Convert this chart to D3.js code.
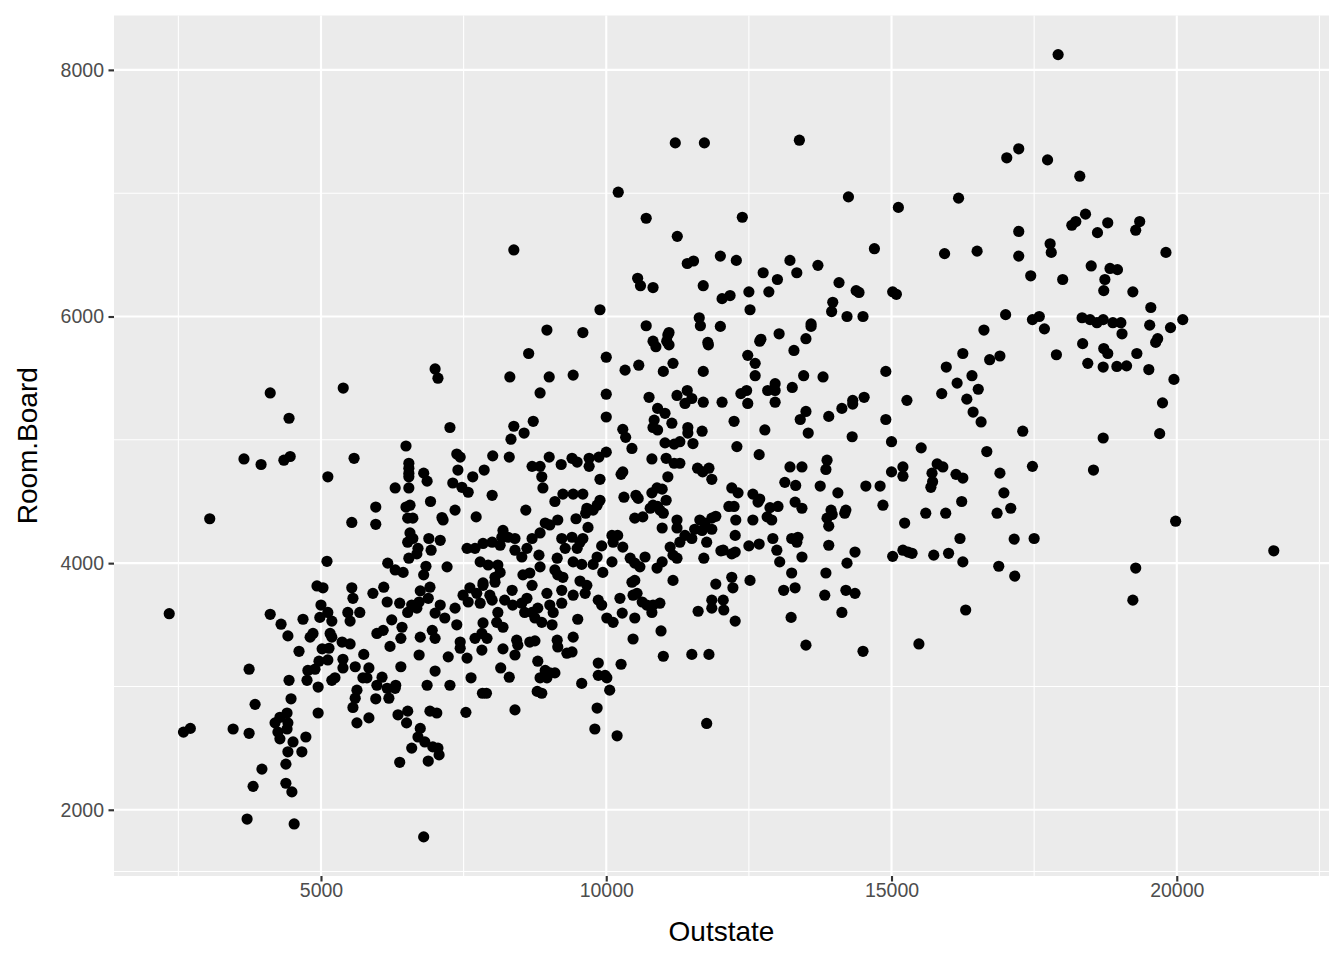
<!DOCTYPE html>
<html><head><meta charset="utf-8">
<script src="https://cdn.jsdelivr.net/npm/d3@7"></script>
<style>html,body{margin:0;padding:0;background:#fff;}svg{display:block;}</style>
</head><body>
<svg id="chart" width="1344" height="960"></svg>
<script>
// Outstate (x) vs Room.Board (y)
const topPoints = [[17920,8124],[11210,7408],[11720,7408],[13385,7430],[17230,7360],[17020,7287],[17735,7270],[10210,7008],[14245,6970],[15120,6885],[10700,6797],[12385,6805],[11245,6650],[16175,6960],[18300,7138],[17230,6690],[18160,6740],[18400,6830],[18230,6770],[18790,6760],[18610,6680],[19350,6770],[19280,6700],[19810,6520],[15930,6510],[17780,6590],[17800,6520],[16500,6530],[17230,6490],[17440,6330],[18500,6410],[18830,6390],[18960,6380],[18740,6300],[18720,6210],[18000,6300],[19230,6200],[8380,6540]];
const rightPoints = [[19545,6073],[19020,5950],[19040,5860],[19525,5930],[19890,5910],[20105,5975],[19665,5820],[19630,5790],[19300,5700],[18950,5595],[19120,5600],[19510,5570],[19950,5490],[19750,5300],[19700,5050],[15085,6180],[15020,6200],[17000,6015],[17470,5975],[17590,6000],[17680,5900],[18340,5990],[18480,5975],[18600,5950],[18710,5975],[18880,5950],[16620,5890],[18350,5780],[18720,5740],[18790,5700],[18440,5620],[18710,5590],[17890,5690],[16250,5700],[16720,5650],[16900,5680],[15960,5590],[16410,5520],[16150,5460],[16520,5410],[15880,5375],[15270,5320],[16320,5330],[16430,5225],[16570,5145],[17300,5070],[18710,5015],[19980,4340],[21700,4100],[19280,3960],[19230,3700]];
const upperMidPoints = [[14700,6550],[11420,6430],[11530,6450],[12000,6490],[12280,6455],[13220,6455],[13710,6415],[10550,6310],[10600,6250],[10820,6235],[11700,6250],[12750,6355],[13000,6300],[13340,6355],[14080,6275],[14380,6210],[14430,6195],[12030,6145],[12170,6170],[12500,6200],[12850,6200],[12520,6055],[13970,6115],[13950,6040],[14220,6000],[14500,6000],[9890,6055],[11630,5990],[11650,5925],[10700,5925],[11100,5870],[12000,5920],[13030,5860],[13590,5940],[13590,5920],[12710,5815],[13500,5820],[10820,5800],[11060,5800],[11780,5790]];
const midRightPoints = [[11790,5770],[12690,5800],[13290,5725],[12480,5685],[12610,5620],[12610,5520],[11700,5555],[13460,5520],[13800,5510],[14900,5555],[11420,5400],[11500,5335],[11380,5295],[11700,5305],[12030,5305],[12360,5375],[12460,5400],[12480,5295],[12830,5400],[12960,5455],[12960,5400],[12960,5305],[13260,5425],[12240,5150],[12780,5080],[13400,5165],[13500,5230],[13540,5055],[13900,5190],[14130,5255],[14320,5290],[14320,5320],[14520,5345],[14900,5165],[11430,5100],[11430,5055],[11680,5070],[11290,4985],[11520,4970],[12290,4945],[12680,4880],[14310,5025],[15000,4985],[11290,4810],[11600,4770],[11690,4740],[11800,4770],[11850,4680],[13220,4780],[13430,4780],[13870,4835],[13850,4760],[13130,4655],[13320,4630],[13750,4625],[14060,4570],[14550,4625],[14800,4625],[15000,4740],[15200,4780],[15200,4705],[12200,4610],[12310,4570],[12570,4560],[12690,4520],[12660,4495],[12150,4460],[12240,4460],[12870,4450],[13010,4460],[13310,4495],[13430,4445],[13940,4430],[14200,4430],[14850,4470]];
const midPoints = [[8960,5890],[9590,5870],[11080,5850],[11100,5770],[10870,5755],[8640,5700],[10000,5670],[8310,5510],[9000,5510],[9420,5525],[10330,5565],[10570,5605],[11000,5555],[11170,5620],[8840,5380],[10000,5370],[10750,5345],[11240,5360],[10900,5255],[11030,5215],[10840,5160],[10820,5100],[10900,5080],[11150,5135],[10000,5185],[8720,5150],[8380,5110],[8560,5055],[8330,5005],[7260,5100],[10290,5085],[10340,5020],[10450,4930],[11030,4975],[11190,4965],[7380,4885],[7440,4860],[8010,4870],[8300,4860],[9000,4860],[8700,4785],[8840,4785],[8870,4700],[8890,4610],[9210,4800],[9400,4850],[9490,4820],[9700,4850],[9700,4785],[9870,4860],[10000,4900],[9890,4680],[10290,4740],[10260,4720],[10800,4845],[11050,4850],[11190,4810],[11080,4700],[7400,4755],[7660,4700],[7860,4755],[7310,4650],[7470,4615],[7580,4575],[8000,4550],[9100,4500],[9240,4560],[9420,4560],[9590,4560],[9890,4510],[10310,4535],[10520,4550],[10560,4525],[10800,4570],[10890,4610],[10980,4600],[11050,4510],[10820,4470],[10900,4460],[8590,4430],[7350,4430],[9660,4445],[9840,4470]];
const upperLeftPoints = [[4110,5380],[4440,5175],[5390,5420],[7000,5575],[7050,5500],[3650,4845],[3950,4800],[4350,4835],[4460,4865],[5120,4700],[5580,4850],[6490,4950],[6540,4810],[6540,4770],[6540,4730],[6540,4700],[6800,4730],[6860,4665],[6300,4610],[6540,4610],[5960,4455],[6490,4455],[6560,4470],[6920,4500],[3050,4360]];
const leftPoints = [[5960,4315],[5540,4330],[6610,4365],[6520,4365],[7120,4370],[7140,4350],[6560,4245],[6610,4200],[6520,4170],[6890,4200],[7090,4185],[6930,4105],[6700,4120],[6680,4075],[6540,4040],[6170,4000],[6300,3945],[6440,3925],[6840,3975],[6800,3905],[7210,3970],[5105,4015],[4930,3815],[5035,3800],[5540,3800],[5560,3715],[5910,3755],[6100,3805],[6160,3685],[6380,3675],[6740,3775],[6910,3805],[6880,3715],[6720,3685],[6590,3660],[6520,3600],[6680,3635],[7090,3660],[7000,3595],[7170,3555],[4110,3585],[4300,3505],[4685,3545],[5000,3660],[4980,3560],[5120,3600],[5190,3530],[5470,3600],[5680,3600],[5510,3530],[6240,3540],[6090,3455],[5980,3430],[6420,3480],[6950,3455],[7000,3390],[6740,3400],[6400,3390],[4420,3410],[4810,3400],[4860,3430],[5160,3430],[5190,3400],[5370,3360],[5510,3345],[6210,3325],[5020,3305],[5140,3310],[4615,3285],[5750,3260],[6720,3255],[7230,3240],[4965,3205],[5120,3215],[5385,3220],[5385,3150],[5600,3160],[5840,3150],[5805,3070],[5735,3070],[6070,3075],[6400,3160],[7000,3125],[3740,3140],[4770,3130],[4895,3140],[4440,3050],[4755,3050],[5190,3050],[5245,3070],[6310,3010],[6860,3010],[7260,3010],[2340,3590]];
const lowLeftPoints = [[4950,2995],[4475,2900],[3845,2855],[4950,2785],[5980,3010],[6160,2985],[6300,2985],[5630,2970],[5600,2905],[5560,2830],[5960,2900],[6190,2905],[5630,2705],[5840,2745],[6350,2770],[6520,2800],[6500,2705],[6910,2800],[7030,2785],[6740,2660],[6700,2590],[6820,2550],[6960,2510],[7050,2500],[7070,2445],[6590,2500],[6380,2385],[6880,2395],[4195,2705],[4280,2750],[4405,2785],[4420,2705],[4245,2630],[4405,2655],[4280,2575],[4510,2550],[4420,2470],[4665,2470],[4735,2590],[3460,2655],[3740,2620],[4385,2370],[3965,2330],[3810,2190],[4385,2215],[4490,2145],[3705,1925],[4530,1885],[6800,1780],[2590,2630],[2710,2660]];
const lowMidPoints = [[7830,2945],[7900,2945],[8790,2960],[8870,2945],[10060,2970],[7540,2790],[8400,2810],[9840,2825],[9800,2655],[10190,2600],[11760,2700]];
const lowRightPoints = [[12270,4350],[12570,4350],[12820,4375],[12900,4350],[13870,4365],[13960,4395],[13900,4300],[14180,4405],[15230,4325],[11640,4350],[11730,4325],[11850,4365],[11920,4380],[11550,4275],[11680,4265],[11850,4275],[11380,4225],[11500,4200],[11290,4170],[12260,4225],[11760,4170],[12010,4100],[12050,4105],[12200,4075],[12260,4090],[11710,4040],[12500,4140],[12680,4155],[12920,4200],[12990,4105],[13040,4010],[13250,4200],[13360,4210],[13340,4170],[13430,4050],[13900,4145],[14360,4090],[14220,4000],[15020,4055],[15200,4105],[15290,4090],[13850,3920],[13250,3920],[12200,3885],[12220,3800],[11920,3830],[12520,3860],[11850,3700],[12050,3700],[11850,3635],[12060,3620],[11610,3610],[12260,3530],[13110,3780],[13310,3800],[13830,3740],[14200,3780],[14360,3755],[14130,3600],[13240,3560],[13500,3335],[14500,3285],[11500,3260],[11800,3260],[15520,4935],[16670,4905],[15800,4805],[15900,4780],[15710,4730],[15720,4660],[15690,4615],[16130,4720],[16250,4690],[16900,4730],[17470,4785],[18540,4755],[16230,4500],[16970,4570],[17090,4445],[16850,4405],[15600,4405],[15950,4405],[16200,4200],[17150,4195],[17500,4200],[15360,4080],[15740,4065],[16000,4080],[16250,4010],[16880,3975],[17160,3895],[16300,3620],[15480,3345]];
const densePoints = [[7720,4375],[9470,4360],[9640,4405],[9770,4430],[9150,4350],[9010,4310],[8930,4325],[8840,4245],[9680,4290],[10500,4365],[10640,4375],[10770,4445],[10940,4430],[11000,4405],[10980,4285],[11240,4350],[11240,4285],[7560,4120],[7700,4120],[7840,4160],[8000,4170],[8140,4145],[8190,4265],[8280,4210],[8400,4200],[8170,4210],[8400,4105],[8520,4050],[8610,4120],[8700,4200],[8820,4065],[9220,4200],[9400,4210],[9590,4200],[9280,4120],[9490,4120],[9540,4170],[9920,4140],[10120,4170],[10200,4225],[10290,4130],[10100,4225],[10680,4050],[11120,4130],[11170,4065],[11240,4040],[7790,4010],[7930,3985],[8100,3985],[8140,3925],[8050,3885],[7840,3820],[8050,3845],[8840,3970],[8540,3905],[8660,3920],[8700,3820],[9140,4040],[9100,3945],[9150,3905],[9240,3885],[9220,3780],[9420,4010],[9570,3990],[9840,4050],[9770,3990],[9940,3925],[10100,4010],[9540,3855],[9660,3820],[9630,3755],[9420,3740],[10420,4040],[10500,4000],[10590,3970],[10450,3845],[10500,3860],[10890,3960],[10980,4010],[11170,3860],[10470,3740],[10540,3755],[10630,3685],[10820,3660],[10710,3660],[10940,3675],[10800,3600],[9860,3700],[9920,3660],[10240,3715],[7490,3740],[7610,3800],[7580,3685],[7730,3755],[7840,3840],[7960,3740],[8000,3700],[7790,3675],[8220,3700],[8350,3780],[8360,3660],[8520,3675],[8610,3715],[8570,3600],[8700,3600],[8750,3555],[8800,3635],[8960,3755],[9010,3660],[8870,3520],[9050,3500],[9070,3600],[9220,3675],[7350,3635],[7380,3500],[7840,3515],[7820,3430],[7700,3390],[7910,3390],[7820,3295],[8100,3600],[8080,3520],[8190,3480],[8430,3375],[8450,3335],[8400,3255],[8660,3360],[8750,3370],[8190,3305],[9140,3375],[9150,3320],[9310,3270],[9400,3280],[9420,3400],[9500,3545],[7440,3360],[7440,3310],[7560,3230],[8800,3205],[8930,3130],[9010,3110],[9100,3110],[8840,3070],[8960,3070],[8150,3150],[8300,3075],[7630,3070],[9570,3025],[9860,3190],[9860,3090],[9980,3090],[10010,3070],[10260,3180],[10470,3385],[10960,3450],[11000,3245],[10010,3555],[10120,3520],[10500,3555],[10280,3595]];

const xTicks = [5000, 10000, 15000, 20000];
const yTicks = [2000, 4000, 6000, 8000];
const xMinor = [2500, 7500, 12500, 17500, 22500];
const yMinor = [1500, 3000, 5000, 7000];
const xTitle = "Outstate";
const yTitle = "Room.Board";

const data = [].concat(topPoints, rightPoints, upperMidPoints, midRightPoints, midPoints,
  upperLeftPoints, leftPoints, lowLeftPoints, lowMidPoints, lowRightPoints, densePoints);

const panel = {left: 114, right: 1329, top: 15.5, bottom: 876};
const svg = d3.select("#chart");
const font = "'Liberation Sans', Arial, Helvetica, sans-serif";

const x = d3.scaleLinear().domain([1372, 22668]).range([panel.left, panel.right]);
const y = d3.scaleLinear().domain([1463, 8441]).range([panel.bottom, panel.top]);

svg.append("rect").attr("x", panel.left).attr("y", panel.top)
  .attr("width", panel.right - panel.left).attr("height", panel.bottom - panel.top)
  .attr("fill", "#EBEBEB");

const grid = svg.append("g");
grid.selectAll(".xm").data(xMinor).join("line")
  .attr("x1", d => x(d)).attr("x2", d => x(d)).attr("y1", panel.top).attr("y2", panel.bottom)
  .attr("stroke", "#fff").attr("stroke-width", 1.07);
grid.selectAll(".ym").data(yMinor).join("line")
  .attr("y1", d => y(d)).attr("y2", d => y(d)).attr("x1", panel.left).attr("x2", panel.right)
  .attr("stroke", "#fff").attr("stroke-width", 1.07);
grid.selectAll(".xM").data(xTicks).join("line")
  .attr("x1", d => x(d)).attr("x2", d => x(d)).attr("y1", panel.top).attr("y2", panel.bottom)
  .attr("stroke", "#fff").attr("stroke-width", 2.13);
grid.selectAll(".yM").data(yTicks).join("line")
  .attr("y1", d => y(d)).attr("y2", d => y(d)).attr("x1", panel.left).attr("x2", panel.right)
  .attr("stroke", "#fff").attr("stroke-width", 2.13);

// points
svg.append("g").selectAll("circle").data(data).join("circle")
  .attr("cx", d => x(d[0])).attr("cy", d => y(d[1])).attr("r", 5.6).attr("fill", "#000");

// axes
const xAxis = svg.append("g").attr("transform", `translate(0,${panel.bottom})`)
  .call(d3.axisBottom(x).tickValues(xTicks).tickSize(5.5).tickPadding(1.5).tickFormat(d3.format("d")));
const yAxis = svg.append("g").attr("transform", `translate(${panel.left},0)`)
  .call(d3.axisLeft(y).tickValues(yTicks).tickSize(5.5).tickPadding(4.5).tickFormat(d3.format("d")));
[xAxis, yAxis].forEach(a => {
  a.select(".domain").remove();
  a.selectAll(".tick line").attr("stroke", "#333333").attr("stroke-width", 2.13);
  a.selectAll(".tick text").attr("fill", "#4D4D4D").style("font-family", font).style("font-size", "19.5px");
});

svg.append("text").text(xTitle)
  .attr("x", (panel.left + panel.right) / 2).attr("y", 941)
  .attr("text-anchor", "middle").style("font-family", font).style("font-size", "28px").attr("fill", "#000");
svg.append("text").text(yTitle)
  .attr("transform", `translate(37,${(panel.top + panel.bottom) / 2}) rotate(-90)`)
  .attr("text-anchor", "middle").style("font-family", font).style("font-size", "28px").attr("fill", "#000");
</script>
</body></html>
